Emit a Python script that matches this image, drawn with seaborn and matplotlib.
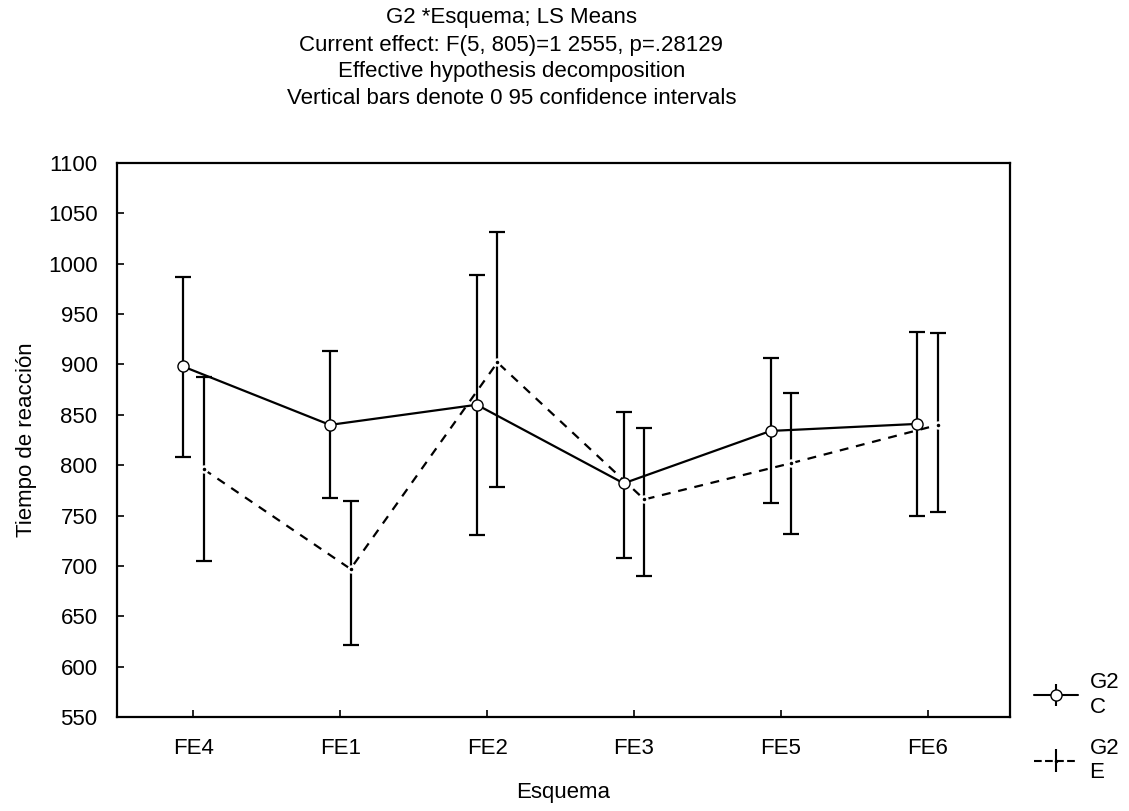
import numpy as np
import pandas as pd
import matplotlib
matplotlib.use("Agg")
import matplotlib.pyplot as plt
import seaborn as sns

# data
esquemas = ["FE4", "FE1", "FE2", "FE3", "FE5", "FE6"]
grupos = ["C", "E"]
media_c = [898, 840, 860, 782, 834, 841]
ci_low_c = [808, 767, 731, 708, 762, 750]
ci_high_c = [987, 913, 989, 853, 906, 932]
media_e = [796, 697, 902, 766, 802, 840]
ci_low_e = [705, 621, 778, 690, 732, 754]
ci_high_e = [888, 764, 1032, 837, 872, 931]
yticks = list(range(550, 1101, 50))

sns.set_theme(style="white")
plt.rcParams['font.family'] = ['Liberation Sans', 'DejaVu Sans']
plt.rcParams['text.color'] = 'black'
plt.rcParams['axes.labelcolor'] = 'black'

df = pd.DataFrame({
    "Esquema": esquemas * 2,
    "G2": ["C"] * 6 + ["E"] * 6,
    "media": media_c + media_e,
    "lo": ci_low_c + ci_low_e,
    "hi": ci_high_c + ci_high_e,
})
offset = {"C": -0.07, "E": 0.07}
df["x"] = [esquemas.index(e) + offset[g] for e, g in zip(df["Esquema"], df["G2"])]

fig = plt.figure(figsize=(11.29, 8.11), dpi=100)
ax = fig.add_axes([0.1036, 0.1159, 0.791, 0.6831])

sns.lineplot(data=df, x="x", y="media", style="G2", style_order=grupos,
             dashes={"C": "", "E": (4, 3.5)}, color="black", linewidth=1.6,
             ax=ax, legend=False, sort=False)

for g in grupos:
    d = df[df["G2"] == g]
    ax.errorbar(d["x"], d["media"],
                yerr=[d["media"] - d["lo"], d["hi"] - d["media"]],
                fmt="none", ecolor="black", elinewidth=1.6, capsize=6, capthick=1.6)

d = df[df["G2"] == "C"]
ax.plot(d["x"], d["media"], "o", ms=8, mfc="white", mec="black", mew=1.0, zorder=5)
d = df[df["G2"] == "E"]
ax.plot(d["x"], d["media"], "o", ms=5, mfc="white", mec="white", zorder=5)
ax.plot(d["x"], d["media"], ".", ms=3, color="black", zorder=6)

ax.set_xlim(-0.52, 5.56)
ax.set_ylim(550, 1100)
ax.set_xticks(range(len(esquemas)))
ax.set_xticklabels(esquemas)
ax.set_yticks(yticks)
ax.tick_params(axis="both", direction="in", length=5, width=1.2, labelsize=16,
               left=True, bottom=True, colors="black")
ax.tick_params(axis="y", pad=14)
ax.tick_params(axis="x", pad=15)
for s in ax.spines.values():
    s.set_color("black")
    s.set_linewidth(1.6)

ax.set_xlabel("Esquema", fontsize=16, labelpad=17)
ax.set_ylabel("Tiempo de reacción", fontsize=16, labelpad=8)

titulo = ["G2 *Esquema; LS Means",
          "Current effect: F(5, 805)=1 2555, p=.28129",
          "Effective hypothesis decomposition",
          "Vertical bars denote 0 95 confidence intervals"]
for i, t in enumerate(titulo):
    fig.text(0.453, 1 - (18 + 27 * i) / 811, t, ha="center", va="center", fontsize=16)

# legend
h_c = ax.errorbar([], [], yerr=[], fmt="o-", color="black", mfc="white", ms=8, capsize=6)
h_e = ax.errorbar([], [], yerr=[], fmt=".--", color="black", ms=3, capsize=6)
leg = fig.legend([h_c, h_e], ["G2\nC", "G2\nE"], loc="lower left",
                 bbox_to_anchor=(0.898, 0.01), frameon=False, fontsize=16,
                 handlelength=2.0, labelspacing=0.9, handletextpad=0.5)

fig.savefig("out.png", dpi=100)
